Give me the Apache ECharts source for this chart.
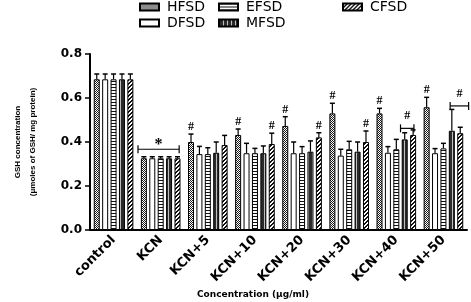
<!DOCTYPE html>
<html>
<head>
<meta charset="utf-8">
<script src="https://cdn.jsdelivr.net/npm/echarts@6/dist/echarts.min.js"></script>
<style>
  html, body { margin: 0; padding: 0; background: #fff; }
  #chart { width: 471px; height: 302px; }
</style>
</head>
<body>
<div id="chart"></div>
<script>
const categories = ['control', 'KCN', 'KCN+5', 'KCN+10', 'KCN+20', 'KCN+30', 'KCN+40', 'KCN+50']
const seriesNames = ['HFSD', 'DFSD', 'EFSD', 'MFSD', 'CFSD']

// means
const hfsd = [0.685, 0.326, 0.400, 0.432, 0.473, 0.530, 0.530, 0.558]
const dfsd = [0.685, 0.326, 0.345, 0.349, 0.349, 0.338, 0.351, 0.349]
const efsd = [0.685, 0.326, 0.345, 0.349, 0.349, 0.367, 0.367, 0.371]
const mfsd = [0.685, 0.326, 0.351, 0.349, 0.356, 0.356, 0.412, 0.451]
const cfsd = [0.685, 0.326, 0.386, 0.391, 0.421, 0.400, 0.432, 0.440]

// error (upper half only is drawn)
const hfsdErr = [0.024, 0.007, 0.036, 0.027, 0.042, 0.046, 0.023, 0.045]
const dfsdErr = [0.024, 0.007, 0.035, 0.045, 0.051, 0.029, 0.028, 0.021]
const efsdErr = [0.024, 0.007, 0.029, 0.022, 0.030, 0.036, 0.045, 0.023]
const mfsdErr = [0.024, 0.007, 0.049, 0.033, 0.049, 0.044, 0.030, 0.097]
const cfsdErr = [0.024, 0.007, 0.044, 0.049, 0.021, 0.050, 0.023, 0.027]

// '#' over single bars (1 = marked)
const hashHFSD = [0, 0, 1, 1, 1, 1, 1, 1]
const hashCFSD = [0, 0, 0, 1, 1, 1, 0, 0]

// brackets: category, span (in bar slots), height, label
const bracketCat = [1, 6, 7]
const bracketFrom = [-0.7, 2.5, 2.8]
const bracketTo = [4.2, 4.1, 5.0]
const bracketY = [0.367, 0.462, 0.564]
const bracketLabel = ['*', '#', '#']

const yTicks = [0, 0.2, 0.4, 0.6, 0.8]

const means = [hfsd, dfsd, efsd, mfsd, cfsd]
const errs = [hfsdErr, dfsdErr, efsdErr, mfsdErr, cfsdErr]

const BAR_W = 6
const BAR_GAP = 2.4
const PITCH = BAR_W + BAR_GAP

function pattern(w, h, draw) {
  const c = document.createElement('canvas')
  c.width = w
  c.height = h
  const ctx = c.getContext('2d')
  draw(ctx)
  return { image: c, repeat: 'repeat' }
}

const fills = [
  // HFSD checker
  pattern(2, 2, ctx => {
    ctx.fillStyle = '#fff'; ctx.fillRect(0, 0, 2, 2)
    ctx.fillStyle = '#1a1a1a'; ctx.fillRect(0, 0, 1, 1); ctx.fillRect(1, 1, 1, 1)
  }),
  // DFSD plain white
  '#ffffff',
  // EFSD horizontal lines
  pattern(4, 3, ctx => {
    ctx.fillStyle = '#fff'; ctx.fillRect(0, 0, 4, 3)
    ctx.fillStyle = '#111'; ctx.fillRect(0, 0, 4, 1)
  }),
  // MFSD dark with vertical lines
  pattern(4, 4, ctx => {
    ctx.fillStyle = '#2b2b2b'; ctx.fillRect(0, 0, 4, 4)
    ctx.fillStyle = '#bdbdbd'; ctx.fillRect(0, 0, 1, 4)
  }),
  // CFSD diagonal
  pattern(4, 4, ctx => {
    ctx.fillStyle = '#fff'; ctx.fillRect(0, 0, 4, 4)
    ctx.fillStyle = '#111'
    for (let i = 0; i < 4; i++) {
      ctx.fillRect(i, 3 - i, 1, 1)
      ctx.fillRect((i + 1) % 4, 3 - i, 1, 1)
    }
  })
]

const errData = []
means.forEach((m, s) => m.forEach((v, c) => errData.push([c, s, v, errs[s][c]])))

const hashData = []
hashHFSD.forEach((f, c) => { if (f) hashData.push([c, 0, hfsd[c] + hfsdErr[c]]) })
hashCFSD.forEach((f, c) => { if (f) hashData.push([c, 4, cfsd[c] + cfsdErr[c]]) })

const bracketData = bracketCat.map((c, i) => [c, bracketFrom[i], bracketTo[i], bracketY[i], i])

const chart = echarts.init(document.getElementById('chart'))

const barSeries = seriesNames.map((name, s) => ({
  name,
  type: 'bar',
  barWidth: BAR_W,
  barGap: (BAR_GAP / BAR_W * 100) + '%',
  data: means[s],
  itemStyle: { color: fills[s], borderColor: '#000', borderWidth: 1 },
  silent: true,
  animation: false
}))

chart.setOption({
  animation: false,
  legend: [
    { data: ['HFSD', 'DFSD'], left: 139, top: 0 },
    { data: ['EFSD', 'MFSD'], left: 218, top: 0 },
    { data: ['CFSD'], left: 342, top: 0 }
  ].map(l => Object.assign(l, {
    orient: 'vertical',
    padding: 0,
    itemWidth: 19,
    itemHeight: 7,
    itemGap: 2,
    icon: 'rect',
    textStyle: { fontFamily: 'DejaVu Sans', fontSize: 14, color: '#000', padding: [0, 0, 0, 3], lineHeight: 14 }
  })),
  grid: { left: 90, right: 4, top: 54, bottom: 72 },
  xAxis: {
    type: 'category',
    data: categories,
    axisLine: { lineStyle: { color: '#000', width: 2 } },
    axisTick: { alignWithLabel: true, length: 4, lineStyle: { color: '#000', width: 1.5 } },
    axisLabel: {
      rotate: 45, margin: 8, color: '#000',
      fontFamily: 'DejaVu Sans', fontWeight: 'bold', fontSize: 13
    }
  },
  yAxis: {
    type: 'value',
    min: 0,
    max: 0.8,
    interval: 0.2,
    name: 'GSH concentration\n(μmoles of GSH/ mg protein)',
    nameLocation: 'middle',
    nameRotate: 90,
    nameGap: 50,
    nameTextStyle: { fontFamily: 'Liberation Sans', fontWeight: 'bold', fontSize: 8, color: '#000', lineHeight: 15 },
    splitLine: { show: false },
    axisLine: { show: true, lineStyle: { color: '#000', width: 2 } },
    axisTick: { show: true, length: 5, lineStyle: { color: '#000', width: 1.5 } },
    axisLabel: {
      color: '#000', fontFamily: 'DejaVu Sans', fontWeight: 'bold', fontSize: 12, margin: 8,
      formatter: v => yTicks.indexOf(+v.toFixed(1)) >= 0 ? v.toFixed(1) : ''
    }
  },
  graphic: [{
    type: 'text',
    left: 197,
    top: 290,
    style: { text: 'Concentration (μg/ml)', fontFamily: 'DejaVu Sans', fontWeight: 'bold', fontSize: 9, fill: '#000' }
  }],
  series: barSeries.concat([
    {
      type: 'custom',
      z: 5,
      silent: true,
      data: errData,
      renderItem(params, api) {
        const c = api.value(0), s = api.value(1), m = api.value(2), e = api.value(3)
        const base = api.coord([c, m])
        const top = api.coord([c, m + e])
        const x = base[0] + (s - 2) * PITCH
        return {
          type: 'group',
          children: [
            { type: 'line', shape: { x1: x, y1: base[1], x2: x, y2: top[1] }, style: { stroke: '#000', lineWidth: 1.2 } },
            { type: 'line', shape: { x1: x - 2.5, y1: top[1], x2: x + 2.5, y2: top[1] }, style: { stroke: '#000', lineWidth: 1.5 } }
          ]
        }
      }
    },
    {
      type: 'custom',
      z: 6,
      silent: true,
      data: hashData,
      renderItem(params, api) {
        const c = api.value(0), s = api.value(1), y = api.value(2)
        const p = api.coord([c, y])
        return {
          type: 'text',
          x: p[0] + (s - 2) * PITCH,
          y: p[1] - 1,
          style: { text: '#', fontFamily: 'Liberation Serif', fontWeight: 'bold', fontSize: 12, fill: '#000', align: 'center', verticalAlign: 'bottom' }
        }
      }
    },
    {
      type: 'custom',
      z: 6,
      silent: true,
      data: bracketData,
      renderItem(params, api) {
        const c = api.value(0), a = api.value(1), b = api.value(2), y = api.value(3), i = api.value(4)
        const p = api.coord([c, y])
        const x1 = p[0] + (a - 2) * PITCH
        const x2 = p[0] + (b - 2) * PITCH
        const lab = bracketLabel[i]
        return {
          type: 'group',
          children: [
            { type: 'line', shape: { x1, y1: p[1], x2, y2: p[1] }, style: { stroke: '#000', lineWidth: 1.2 } },
            { type: 'line', shape: { x1, y1: p[1] - 4, x2: x1, y2: p[1] + 4 }, style: { stroke: '#000', lineWidth: 1.2 } },
            { type: 'line', shape: { x1: x2, y1: p[1] - 4, x2, y2: p[1] + 4 }, style: { stroke: '#000', lineWidth: 1.2 } },
            {
              type: 'text',
              x: (x1 + x2) / 2,
              y: lab === '*' ? p[1] + 4 : p[1] - 6,
              style: { text: lab, fontFamily: 'Liberation Serif', fontWeight: 'bold', fontSize: lab === '*' ? 16 : 12, fill: '#000', align: 'center', verticalAlign: 'bottom' }
            }
          ]
        }
      }
    }
  ])
})
</script>
</body>
</html>
